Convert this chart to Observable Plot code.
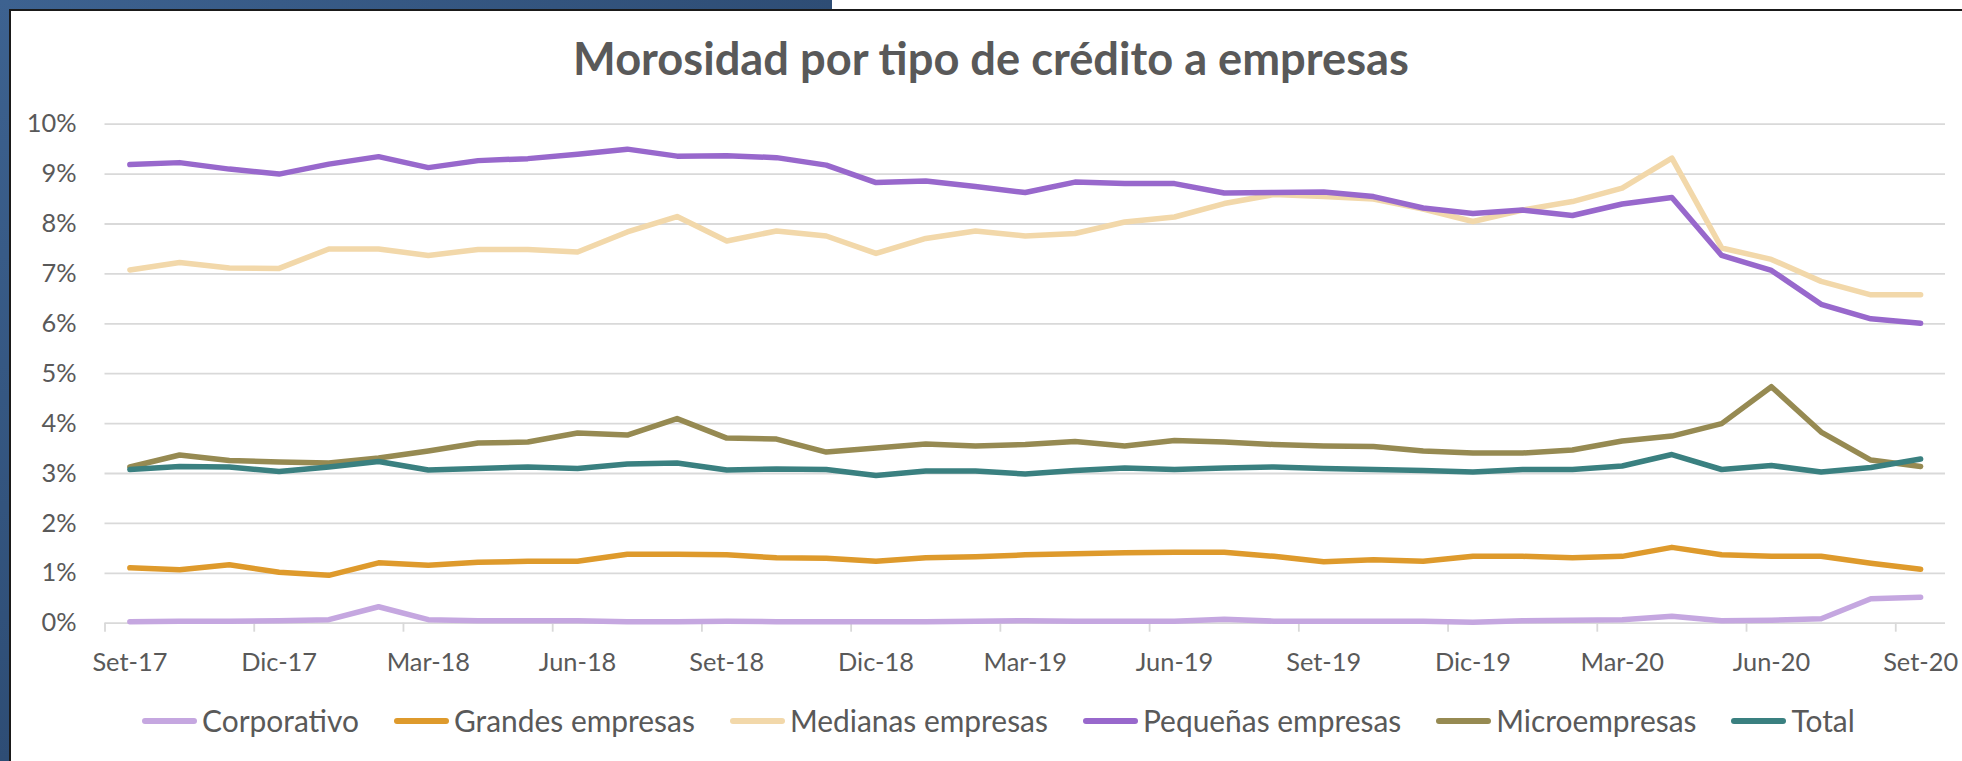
<!DOCTYPE html>
<html>
<head>
<meta charset="utf-8">
<script src="https://cdn.jsdelivr.net/npm/d3@7"></script>
<script src="https://cdn.jsdelivr.net/npm/@observablehq/plot@0.6"></script>
<style>
  html, body { margin: 0; padding: 0; background: #ffffff; }
  body { width: 1962px; height: 761px; position: relative; overflow: hidden; font-family: Lato, "Open Sans", sans-serif; }
  #blueTop { position: absolute; left: 0; top: 0; width: 832px; height: 9px; background: linear-gradient(90deg, #3d6290, #2e4d75); }
  #blueLeft { position: absolute; left: 0; top: 0; width: 9px; height: 761px; background: linear-gradient(180deg, #3d6290, #2e4d75); }
  #borderTop { position: absolute; left: 9px; top: 9px; width: 1953px; height: 2px; background: #1a1a1a; }
  #borderLeft { position: absolute; left: 9px; top: 9px; width: 2px; height: 752px; background: #1a1a1a; }
  #title { position: absolute; top: 0; left: 991px; transform: translateX(-50%); white-space: nowrap; color: #595959; font-weight: 700; line-height: 1; }
  #chart { position: absolute; left: 0; top: 100px; }
  #legend { position: absolute; left: 142px; display: flex; align-items: center; color: #595959; line-height: 1; white-space: nowrap; }
  .item { display: flex; align-items: center; margin-right: 35px; }
  .sw { width: 55px; height: 5.5px; border-radius: 3px; margin-right: 5px; }
</style>
</head>
<body>
<div id="blueTop"></div>
<div id="blueLeft"></div>
<div id="borderTop"></div>
<div id="borderLeft"></div>
<div id="title"></div>
<div id="chart"></div>
<div id="legend"></div>
<script>
// ---------------- DATA ----------------
const titleText = "Morosidad por tipo de crédito a empresas";

const months = ["Set-17","Oct-17","Nov-17","Dic-17","Ene-18","Feb-18","Mar-18","Abr-18","May-18","Jun-18","Jul-18","Ago-18",
  "Set-18","Oct-18","Nov-18","Dic-18","Ene-19","Feb-19","Mar-19","Abr-19","May-19","Jun-19","Jul-19","Ago-19",
  "Set-19","Oct-19","Nov-19","Dic-19","Ene-20","Feb-20","Mar-20","Abr-20","May-20","Jun-20","Jul-20","Ago-20","Set-20"];

const tickLabels = ["Set-17","Dic-17","Mar-18","Jun-18","Set-18","Dic-18","Mar-19","Jun-19","Set-19","Dic-19","Mar-20","Jun-20","Set-20"];

const yTicks = [0,1,2,3,4,5,6,7,8,9,10];

const seriesNames = ["Corporativo","Grandes empresas","Medianas empresas","Pequeñas empresas","Microempresas","Total"];
const seriesColors = ["#C5A7E0","#DE9A2C","#F2D8AA","#9868CC","#968A52","#3A8080"];

const corporativo = [0.03,0.04,0.04,0.05,0.07,0.33,0.07,0.05,0.05,0.05,0.03,0.03,0.04,0.03,0.03,0.03,0.03,0.04,0.05,0.04,0.04,0.04,0.08,0.04,0.04,0.04,0.04,0.02,0.05,0.06,0.07,0.14,0.05,0.06,0.09,0.49,0.52];
const grandes = [1.11,1.07,1.17,1.02,0.96,1.21,1.16,1.22,1.24,1.24,1.38,1.38,1.37,1.31,1.30,1.24,1.31,1.33,1.37,1.39,1.41,1.42,1.42,1.34,1.23,1.27,1.24,1.34,1.34,1.31,1.34,1.52,1.37,1.34,1.34,1.20,1.08];
const medianas = [7.08,7.23,7.12,7.11,7.50,7.50,7.37,7.49,7.49,7.44,7.84,8.15,7.66,7.86,7.76,7.41,7.71,7.86,7.76,7.81,8.04,8.14,8.41,8.59,8.55,8.50,8.30,8.05,8.28,8.45,8.72,9.32,7.52,7.29,6.85,6.58,6.58];
const pequenas = [9.19,9.23,9.10,9.00,9.20,9.35,9.13,9.27,9.31,9.40,9.50,9.36,9.37,9.33,9.18,8.83,8.86,8.75,8.63,8.84,8.81,8.81,8.62,8.63,8.64,8.55,8.32,8.21,8.28,8.17,8.40,8.53,7.37,7.07,6.39,6.10,6.01];
const micro = [3.13,3.37,3.26,3.23,3.21,3.31,3.45,3.61,3.63,3.81,3.77,4.10,3.71,3.69,3.43,3.51,3.59,3.55,3.58,3.64,3.55,3.66,3.63,3.58,3.55,3.54,3.45,3.41,3.41,3.47,3.65,3.75,4.00,4.74,3.83,3.27,3.14];
const total = [3.08,3.14,3.13,3.04,3.13,3.24,3.07,3.10,3.13,3.10,3.19,3.21,3.07,3.09,3.08,2.96,3.05,3.05,2.99,3.06,3.11,3.08,3.11,3.13,3.10,3.08,3.06,3.03,3.08,3.08,3.15,3.38,3.08,3.16,3.03,3.12,3.29];

const seriesValues = [corporativo, grandes, medianas, pequenas, micro, total];

// ---------------- FONT FITTING ----------------
const FONT = "Lato, 'Open Sans', sans-serif";
const ctx = document.createElement("canvas").getContext("2d");
function fitSize(text, weight, target) {
  ctx.font = `${weight} 100px ${FONT}`;
  return 100 * target / ctx.measureText(text).width;
}
const titleSize = fitSize(titleText, 700, 837);
const axisSize = fitSize("Set-17", 400, 75);
const legendSize = fitSize("Grandes empresas", 400, 241);

// ---------------- TITLE ----------------
const title = document.getElementById("title");
title.textContent = titleText;
title.style.fontSize = titleSize + "px";
title.style.top = (75 - 0.887 * titleSize) + "px";

// ---------------- CHART ----------------
const rows = [];
seriesNames.forEach((s, k) => {
  seriesValues[k].forEach((v, i) => rows.push({i, month: months[i], serie: s, value: v}));
});

const tickIdx = tickLabels.map(l => months.indexOf(l));

const width = 1962, height = 590;
const marginTop = 23.7, marginBottom = 67.3, marginLeft = 104.5, marginRight = 17;

const chart = Plot.plot({
  width, height, marginTop, marginBottom, marginLeft, marginRight,
  style: {fontFamily: FONT, fontSize: axisSize + "px", color: "#595959", background: "transparent", overflow: "visible"},
  x: {type: "linear", domain: [-0.5, months.length - 0.5], axis: null, label: null},
  y: {type: "linear", domain: [0, 10], axis: null, label: null},
  color: {domain: seriesNames, range: seriesColors},
  marks: [
    Plot.gridY(yTicks, {stroke: "#d9d9d9", strokeOpacity: 1, strokeWidth: 1.8}),
    Plot.axisX(tickIdx.map(i => i - 0.5), {tickSize: 9, stroke: "#d9d9d9", strokeWidth: 1.8, fill: "none", tickFormat: () => "", label: null}),
    Plot.axisX(tickIdx, {tickSize: 0, tickPadding: 47.3 - 0.71 * axisSize, tickFormat: i => months[i], fontSize: axisSize, color: "#595959", label: null}),
    Plot.axisY(yTicks, {tickSize: 0, tickPadding: 28.5, tickFormat: d => d + "%", fontSize: axisSize, color: "#595959", label: null}),
    Plot.line(rows, {x: "i", y: "value", z: "serie", stroke: "serie", strokeWidth: 5.5, strokeLinejoin: "round", strokeLinecap: "round"})
  ]
});
document.getElementById("chart").appendChild(chart);

// ---------------- LEGEND ----------------
const legend = document.getElementById("legend");
legend.style.fontSize = legendSize + "px";
legend.style.top = (732.7 - 0.887 * legendSize) + "px";
seriesNames.forEach((s, k) => {
  const item = document.createElement("div");
  item.className = "item";
  const sw = document.createElement("div");
  sw.className = "sw";
  sw.style.background = seriesColors[k];
  const t = document.createElement("span");
  t.textContent = s;
  item.appendChild(sw);
  item.appendChild(t);
  legend.appendChild(item);
});
</script>
</body>
</html>
